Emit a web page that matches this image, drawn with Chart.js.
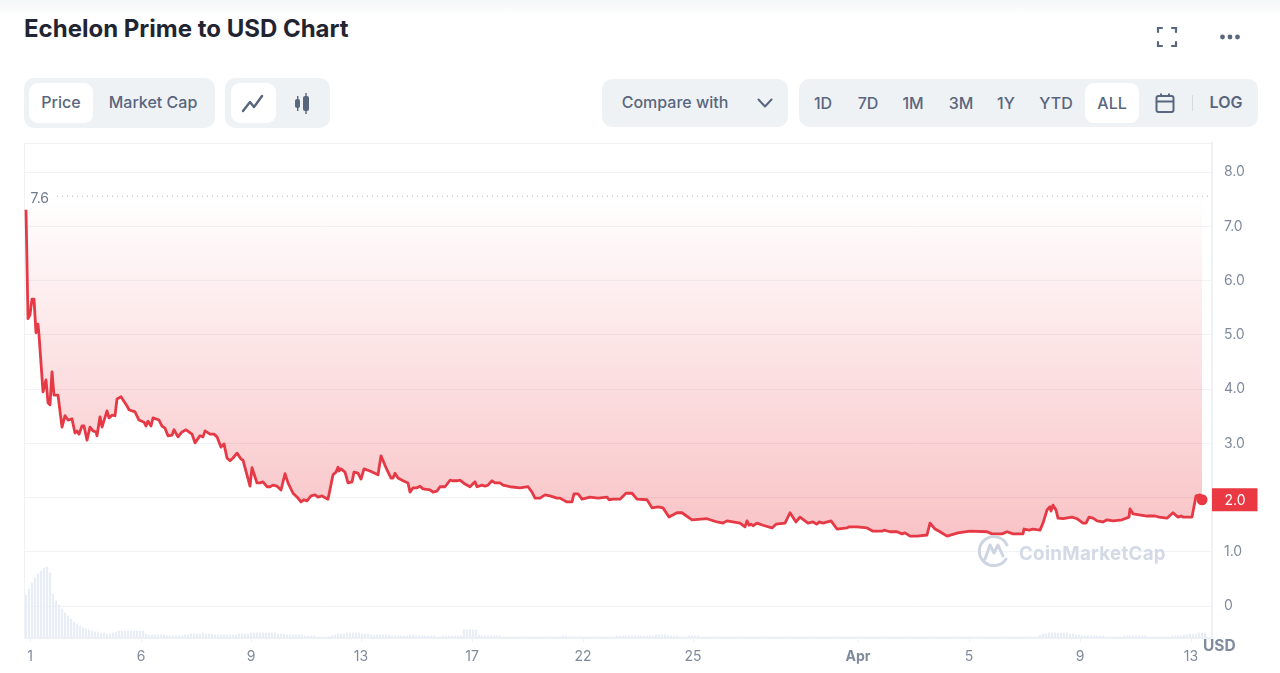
<!DOCTYPE html>
<html><head><meta charset="utf-8">
<script src="https://cdn.jsdelivr.net/npm/chart.js@4"></script>
<style>
html,body{margin:0;padding:0;background:#fff;width:1280px;height:673px;overflow:hidden;font-family:Inter,sans-serif}
.abs{position:absolute}
#shade{left:0;top:0;width:1280px;height:16px;background:linear-gradient(#f5f6f8,#fff)}
h1{position:absolute;left:24px;top:14px;margin:0;font-size:24px;line-height:30px;font-weight:700;color:#222531}
.grp{position:absolute;background:#eff2f5;border-radius:10px}
.on{position:absolute;background:#fff;border-radius:9px;top:5px;height:40px}
.t{position:absolute;transform:translate(-50%,-50%);font-size:16px;font-weight:500;color:#58667e;white-space:nowrap}
#frame{left:24px;top:143px;width:1188px;height:495px;border-left:1px solid #eff2f5;border-top:1px solid #eff2f5;box-sizing:border-box}
canvas{position:absolute;left:0;top:0}
#wm{left:0;top:0;pointer-events:none}
#usd{left:1203px;top:636px;font-size:15.5px;font-weight:700;color:#808a9d}
</style></head><body>
<div class="abs" id="shade"></div>
<h1>Echelon Prime to USD Chart</h1>

<div class="grp" style="left:24px;top:78px;width:191px;height:50px"><div class="on" style="left:5px;width:64px"></div></div>
<div class="t" style="left:61px;top:102px">Price</div>
<div class="t" style="left:153px;top:102px">Market Cap</div>

<div class="grp" style="left:225px;top:78px;width:105px;height:50px"><div class="on" style="left:6px;width:45px"></div></div>
<svg class="abs" style="left:240px;top:90px" width="26" height="26" viewBox="0 0 26 26" fill="none"><path d="M3 21 L10 12 L14 17 L22 6" stroke="#58667e" stroke-width="2.4" stroke-linejoin="round" stroke-linecap="round"/></svg>
<svg class="abs" style="left:290px;top:90px" width="26" height="26" viewBox="0 0 26 26" fill="#58667e"><rect x="5" y="9" width="5" height="9" rx="2"/><rect x="7" y="6" width="1.4" height="15"/><rect x="13" y="6" width="6" height="15" rx="2"/><rect x="15.3" y="3" width="1.4" height="21"/></svg>

<div class="grp" style="left:602px;top:79px;width:186px;height:48px"></div>
<div class="t" style="left:675px;top:102px">Compare with</div>
<svg class="abs" style="left:756px;top:96px" width="18" height="14" viewBox="0 0 18 14" fill="none"><path d="M2.5 3.5 L9 10.5 L15.5 3.5" stroke="#58667e" stroke-width="2" stroke-linecap="round" stroke-linejoin="round"/></svg>

<div class="grp" style="left:799px;top:79px;width:459px;height:48px"><div class="on" style="left:286px;top:4px;width:54px"></div></div>
<div class="t" style="left:823px;top:103px">1D</div>
<div class="t" style="left:868px;top:103px">7D</div>
<div class="t" style="left:913px;top:103px">1M</div>
<div class="t" style="left:961px;top:103px">3M</div>
<div class="t" style="left:1006px;top:103px">1Y</div>
<div class="t" style="left:1056px;top:103px">YTD</div>
<div class="t" style="left:1112px;top:103px">ALL</div>
<svg class="abs" style="left:1153px;top:91px" width="24" height="24" viewBox="0 0 24 24" fill="none" stroke="#58667e" stroke-width="2"><rect x="3.5" y="5" width="17" height="16" rx="2"/><path d="M3.5 10.5 H20.5 M8 2.5 V6 M16 2.5 V6"/></svg>
<div class="abs" style="left:1192px;top:95px;width:1px;height:16px;background:#d5dae3"></div>
<div class="t" style="left:1226px;top:102px;font-weight:600">LOG</div>

<svg class="abs" style="left:1155px;top:25px" width="24" height="24" viewBox="0 0 24 24" fill="none" stroke="#58667e" stroke-width="2.2" stroke-linecap="round"><path d="M3 7 V3 H7 M17 3 H21 V7 M21 17 V21 H17 M7 21 H3 V17"/></svg>
<svg class="abs" style="left:1218px;top:30px" width="24" height="14" viewBox="0 0 24 14" fill="#58667e"><circle cx="4.5" cy="7" r="2.4"/><circle cx="12" cy="7" r="2.4"/><circle cx="19.5" cy="7" r="2.4"/></svg>

<div class="abs" id="frame"></div>
<canvas id="c" width="1280" height="673" style="width:1280px;height:673px"></canvas>
<svg class="abs" id="wm" width="1280" height="673" viewBox="0 0 1280 673" fill="none">
  <path d="M1006 559 A14.5 14.5 0 1 1 1007 545 M985 559 L990 545 L994 553 L998 545 L1003 556" stroke="#cdd5e2" stroke-width="3" stroke-linecap="round" stroke-linejoin="round"/>
  <text x="1019" y="560" font-family="Inter, sans-serif" font-size="18.7" font-weight="700" fill="#d3dae6" letter-spacing=".3">CoinMarketCap</text>
</svg>
<div class="abs" id="usd">USD</div>

<script>
const sampleTimes = [26,28,30,32,34,36,38,39,41,43,46,48,50,52,54,58,62,65,68,72,75,77,79,82,84,87,90,93,96,97,100,102,107,109,112,115,117,121,127,129,135,139,144,146,148,151,153,159,162,165,168,172,174,178,182,186,192,195,200,203,205,210,214,217,221,224,227,230,233,237,241,243,250,252,257,260,263,267,270,273,277,281,285,288,293,298,301,304,307,311,315,318,322,328,333,336,338,339,341,345,348,352,354,358,361,364,370,378,381,387,391,393,395,398,403,408,410,413,417,420,423,430,433,437,440,445,450,453,457,460,465,470,475,477,482,485,488,492,495,500,503,510,520,528,532,535,540,545,550,557,560,567,572,574,578,582,590,598,607,609,613,620,626,632,637,647,652,658,663,669,677,682,692,707,717,723,727,740,745,747,749,751,753,757,763,772,776,785,790,796,800,808,813,817,819,823,831,837,847,849,857,867,873,882,884,890,897,902,905,910,917,927,930,935,940,947,958,970,987,992,1002,1007,1013,1023,1024,1029,1033,1040,1043,1047,1050,1051,1053,1056,1058,1063,1072,1077,1083,1086,1089,1093,1097,1103,1107,1113,1122,1129,1130,1133,1147,1155,1159,1167,1173,1178,1181,1183,1192,1196,1200,1202];
const prices = [7.31,5.30,5.37,5.66,5.66,5.04,5.20,5.00,4.48,3.95,4.17,3.75,3.71,4.32,3.89,3.89,3.30,3.51,3.43,3.45,3.19,3.23,3.17,3.32,3.32,3.06,3.30,3.23,3.21,3.14,3.49,3.30,3.60,3.47,3.52,3.51,3.82,3.86,3.69,3.62,3.58,3.43,3.39,3.32,3.41,3.32,3.47,3.43,3.32,3.28,3.14,3.15,3.25,3.12,3.21,3.25,3.17,3.01,3.14,3.12,3.23,3.17,3.17,3.12,2.93,2.99,2.73,2.68,2.73,2.82,2.71,2.69,2.21,2.55,2.27,2.27,2.29,2.20,2.20,2.23,2.21,2.14,2.44,2.27,2.08,1.99,1.92,1.96,1.94,2.03,2.05,2.01,2.03,1.97,2.42,2.47,2.56,2.49,2.53,2.47,2.27,2.29,2.47,2.45,2.34,2.53,2.49,2.42,2.77,2.51,2.36,2.36,2.45,2.36,2.31,2.27,2.10,2.18,2.18,2.21,2.16,2.14,2.10,2.12,2.20,2.20,2.32,2.31,2.31,2.32,2.25,2.20,2.29,2.20,2.23,2.21,2.23,2.31,2.27,2.27,2.23,2.20,2.18,2.20,2.10,1.99,1.99,2.05,2.03,1.99,1.99,1.92,1.92,2.07,2.07,1.97,2.01,1.99,2.01,1.96,1.97,1.97,2.08,2.08,1.97,1.96,1.81,1.83,1.81,1.64,1.72,1.72,1.59,1.61,1.55,1.53,1.57,1.53,1.46,1.57,1.49,1.51,1.48,1.53,1.49,1.44,1.51,1.53,1.72,1.55,1.64,1.53,1.55,1.51,1.55,1.53,1.57,1.42,1.44,1.46,1.46,1.44,1.38,1.38,1.40,1.37,1.37,1.33,1.35,1.29,1.29,1.31,1.53,1.42,1.37,1.29,1.35,1.38,1.37,1.33,1.33,1.37,1.33,1.33,1.42,1.40,1.42,1.40,1.53,1.77,1.83,1.75,1.86,1.77,1.62,1.61,1.64,1.61,1.53,1.53,1.64,1.62,1.57,1.55,1.59,1.57,1.59,1.64,1.79,1.70,1.66,1.66,1.64,1.62,1.72,1.64,1.66,1.64,1.64,2.03,2.05,1.96];
const volumes = [43,49,55,60,64,67,70,71,65,44,37,33,29,25,22,19,16,14,12,10,9,8,7,6,6,5,5,4,4,5,6,7,7,7,7,7,7,7,7,7,4,3,3,3,3,3,3,2,2,2,2,2,2,3,3,4,4,4,4,5,4,4,4,3,3,3,3,3,3,3,3,4,4,4,4,5,5,5,5,5,5,5,5,5,4,4,4,3,3,3,3,3,3,2,2,2,2,1,1,1,1,1,2,3,4,4,4,5,5,5,5,5,4,4,4,
3,3,3,3,3,3,3,2,2,2,
2,2,2,3,3,2,2,2,2,2,
2,2,1,1,2,2,2,2,2,2,
2,8,8,8,8,8,3,2,2,2,
2,2,2,2,1,1,1,1,1,1,
1,1,1,1,1,1,1,1,1,1,
1,1,1,1,2,2,1,1,1,1,
1,1,1,1,1,1,1,1,1,1,
1,1,2,2,2,2,2,2,2,2,
2,2,2,2,2,3,3,3,3,2,
2,2,2,1,1,1,2,2,2,2,
1,1,1,1,1,1,1,1,1,1,
1,1,1,1,1,1,1,1,1,1,
1,1,1,1,1,1,1,1,1,1,
1,1,1,1,1,1,1,1,1,1,
1,1,1,1,1,1,1,1,1,1,
1,1,1,1,1,1,1,1,1,1,
1,1,1,1,1,1,1,1,1,1,
1,1,1,1,1,1,1,1,1,1,
1,1,1,1,1,1,1,1,1,1,
1,1,1,1,1,1,1,1,1,1,
1,1,1,1,1,1,1,1,1,1,
1,1,1,3,4,4,5,5,5,5,
5,5,5,4,4,3,3,2,2,2,
2,2,2,2,2,1,1,1,1,1,
1,2,2,2,2,2,2,2,2,1,
1,1,1,1,1,1,1,2,2,2,
2,3,3,4,4,4,5,5,5];
const tickTimes = [30,141,251,361,472,583,693,858,969,1080,1191];
const tickLabels = ['1','6','9','13','17','22','25','Apr','5','9','13'];
const priceTicks = [0,1,2,3,4,5,6,7,8];
const peakPrice = 7.56;
const peakLabel = '7.6';
const lastLabel = '2.0';
const peakSpan = [57,1210];
const volumeStart = 26, volumeStep = 3;

const RED = '#ea3943';
const overlay = {
  id:'overlay',
  afterDraw(chart){
    const {ctx, scales:{x,y}} = chart;
    ctx.save();
    ctx.font = '14px Inter, sans-serif';
    ctx.textBaseline = 'middle';
    ctx.fillStyle = '#6f7a8c';
    ctx.textAlign = 'left';
    ctx.fillText(peakLabel, 30.5, y.getPixelForValue(peakPrice) + 3);
    const last = y.getPixelForValue(prices[prices.length-1]);
    ctx.fillStyle = RED;
    ctx.fillRect(1212, last-11.5, 45.5, 23);
    ctx.fillStyle = '#fff';
    ctx.textAlign = 'center';
    ctx.fillText(lastLabel, 1235, last+1);
    ctx.restore();
  }
};

const chart = new Chart(document.getElementById('c'), {
  type:'line',
  data:{datasets:[
    {
      type:'line', label:'Price', order:1,
      data: sampleTimes.map((t,i)=>({x:t,y:prices[i]})),
      borderColor:'#e63946', borderWidth:2.8, tension:0, borderJoinStyle:'round',
      pointRadius:c=>c.dataIndex===prices.length-1?5.5:0,
      pointBackgroundColor:RED, pointBorderWidth:0, pointHoverRadius:0,
      clip:false,
      fill:{value:peakPrice},
      backgroundColor:c=>{
        const ch=c.chart, s=ch.scales.y;
        const a=s?s.getPixelForValue(peakPrice):NaN, b=s?s.getPixelForValue(1.3):NaN;
        if(!isFinite(a)||!isFinite(b)) return 'rgba(234,57,67,0.15)';
        const g=ch.ctx.createLinearGradient(0,a,0,b);
        g.addColorStop(0,'rgba(234,57,67,0)');
        g.addColorStop(1,'rgba(234,57,67,0.3)');
        return g;
      }
    },
    {
      type:'line', label:'Peak', order:2,
      data: peakSpan.map(t=>({x:t,y:peakPrice})),
      borderColor:'#a6b0c3', borderWidth:1, borderDash:[1,4], pointRadius:0, fill:false
    },
    {
      type:'bar', label:'Volume', order:3, yAxisID:'v',
      data: volumes.map((h,i)=>({x:volumeStart+i*volumeStep,y:h})),
      backgroundColor:'#e9edf5', barThickness:1.6
    }
  ]},
  plugins:[overlay],
  options:{
    responsive:false, animation:false, devicePixelRatio:1,
    layout:{padding:{top:143,left:25,right:0,bottom:0}},
    plugins:{legend:{display:false},tooltip:{enabled:false}},
    events:[],
    scales:{
      x:{
        type:'linear', min:25, max:1212, offset:false,
        afterBuildTicks:s=>{s.ticks=tickTimes.map(v=>({value:v}));},
        afterFit:s=>{s.height=35;},
        border:{color:'#eff2f5',width:2},
        grid:{offset:false,drawOnChartArea:false,drawTicks:true,tickLength:4,color:'#eff2f5'},
        ticks:{
          autoSkip:false,maxRotation:0,padding:6,color:'#808a9d',
          font:c=>({family:'Inter, sans-serif',size:14,weight:tickLabels[c.index]==='Apr'?'700':'400'}),
          callback:(v,i)=>tickLabels[i]
        }
      },
      y:{
        position:'right', min:-0.59, max:8.54,
        afterBuildTicks:s=>{s.ticks=priceTicks.map(v=>({value:v}));},
        afterFit:s=>{s.width=68;},
        border:{color:'#eff2f5',width:2},
        grid:{color:'#f1f3f6',drawTicks:false},
        ticks:{padding:12,color:'#808a9d',font:{family:'Inter, sans-serif',size:14},
          callback:v=>v===0?'0':v.toFixed(1)}
      },
      v:{display:false,min:0,max:495}
    }
  }
});
chart.update();
</script>
</body></html>
